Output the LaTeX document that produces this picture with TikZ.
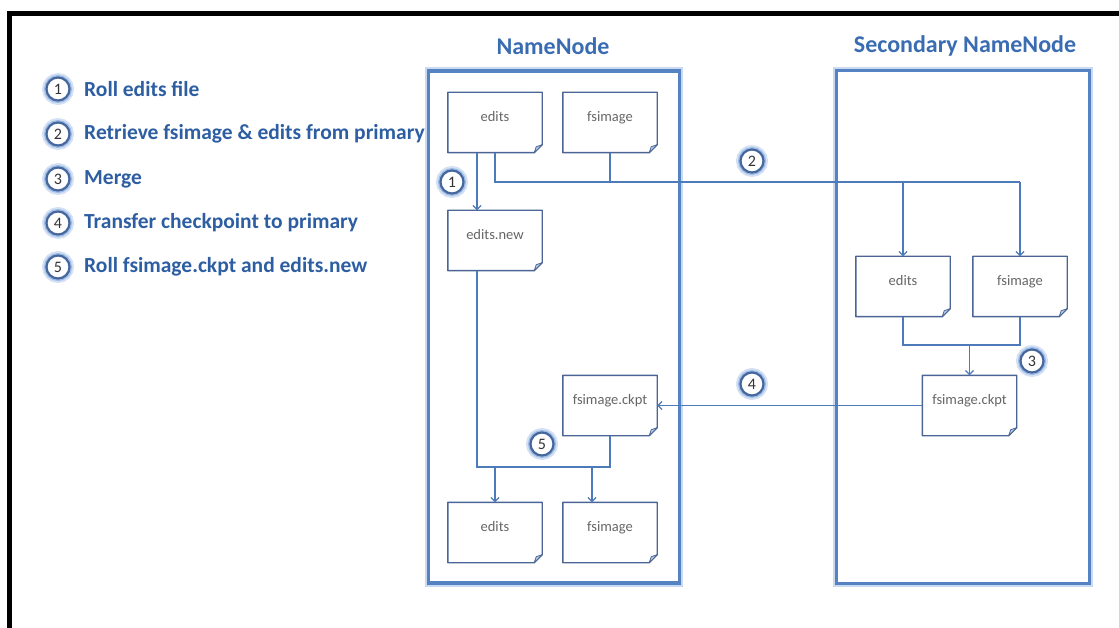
\documentclass[tikz,border=0pt]{standalone}
\usepackage{fontspec}
\setmainfont{Carlito}
\usetikzlibrary{arrows.meta,calc}

\definecolor{boxc}{HTML}{5482C2}
\definecolor{boxglow}{HTML}{C9DAF0}
\definecolor{wirec}{HTML}{4D7AB8}
\definecolor{docc}{HTML}{4A6596}
\definecolor{foldc}{HTML}{B8CCE8}
\definecolor{legc}{HTML}{2D5EA2}
\definecolor{titlec}{HTML}{3A6CB2}
\definecolor{markc}{HTML}{46679E}
\definecolor{glowc}{HTML}{9FBCE6}
\definecolor{labc}{HTML}{666666}

% outline of a document with a folded lower right corner
\newcommand\docoutline[1]{%
  \draw[docc, line width=1.4pt, line join=round]
    (#1.north west) -- (#1.north east) -- ($(#1.south east)+(0,-8)$)
    -- ($(#1.south east)+(-8,0)$) -- (#1.south west) -- cycle;
  \filldraw[fill=foldc, draw=docc, line width=0.8pt, line join=round]
    ($(#1.south east)+(0,-8)$) -- ($(#1.south east)+(-8,0)$)
    -- ($(#1.south east)+(-6,-6)$) -- cycle;
}

\begin{document}
\begin{tikzpicture}[x=1pt, y=-1pt,
  container/.style={draw=boxc, line width=3.2pt, fill=white, inner sep=0pt,
    preaction={draw=boxglow, line width=7.5pt}},
  doc/.style={rectangle, minimum width=94pt, minimum height=60pt, inner sep=0pt,
    fill=white, text=labc, font=\fontsize{14.5}{15}\selectfont, text depth=12pt},
  title/.style={text=titlec, font=\fontsize{24}{26}\selectfont\bfseries},
  legend/.style={anchor=west, text=legc, font=\fontsize{21.5}{23}\selectfont\bfseries, inner sep=0pt},
  marker/.style={circle, draw=markc, line width=2.2pt, fill=white, minimum size=23pt,
    inner sep=0pt, text=black!80, font=\fontsize{16}{16}\selectfont,
    preaction={draw=glowc!45, line width=9pt},
    preaction={draw=glowc, line width=5pt}},
  wire/.style={draw=wirec, line width=1.2pt},
  arr/.style={wire, -{Straight Barb[length=4pt, width=8pt]}}
]
\useasboundingbox (0,0) rectangle (1119,628);

% outer frame
\draw[line width=5pt] (9.5,640) -- (9.5,14) -- (1125,14);

% legend
\foreach \n/\y/\t in {1/89/Roll edits file,
                      2/134/Retrieve fsimage \& edits from primary,
                      3/179/Merge,
                      4/223/Transfer checkpoint to primary,
                      5/267/Roll fsimage.ckpt and edits.new} {
  \node[marker] (lm\n) at (58,\y) {\n};
  \node[legend] (lt\n) at (84,\y) {\t};
}

% the two machines
\node[title] (nnt) at (553,46) {NameNode};
\node[title] (snt) at (965,46) {Secondary NameNode};
\node[container, minimum width=251pt, minimum height=512pt] (nn) at (554,327) {};
\node[container, minimum width=253pt, minimum height=513pt] (sn) at (963,327) {};

% documents on the NameNode
\node[doc] (ea) at (495,122.5) {edits};
\node[doc] (fa) at (610,122.5) {fsimage};
\node[doc] (en) at (495,240.5) {edits.new};
\node[doc] (ck) at (610,405.5) {fsimage.ckpt};
\node[doc] (eb) at (495,532.5) {edits};
\node[doc] (fb) at (610,532.5) {fsimage};
% documents on the Secondary NameNode
\node[doc] (es) at (903,286.5) {edits};
\node[doc] (fs) at (1020,286.5) {fsimage};
\node[doc] (cs) at (969.5,405.5) {fsimage.ckpt};

\foreach \d in {ea,fa,en,ck,eb,fb,es,fs,cs} { \docoutline{\d} }

% bus heights
\coordinate (bus2) at (0,182);
\coordinate (bus3) at (0,345);
\coordinate (bus5) at (0,467);

% 1: roll edits
\draw[arr] ($(ea.south)+(-18,0)$) -- ($(en.north)+(-18,0)$);
% 2: copy fsimage and edits to the secondary
\draw[wire] (ea.south) |- (fs.north |- bus2);
\draw[wire] (fa.south) -- (fa.south |- bus2);
\draw[arr] (es.north |- bus2) -- (es.north);
\draw[arr] (fs.north |- bus2) -- (fs.north);
% 3: merge
\draw[wire] (es.south) |- (fs.south |- bus3) -- (fs.south);
\draw[arr] (cs.north |- bus3) -- (cs.north);
% 4: transfer checkpoint
\draw[arr] (cs.west) -- (ck.east);
% 5: roll
\draw[wire] ($(en.south)+(-18,0)$) |- (ck.south |- bus5) -- (ck.south);
\draw[arr] (eb.north |- bus5) -- (eb.north);
\draw[arr] ($(fb.north)+(-18,-35.5)$) -- ($(fb.north)+(-18,0)$);

% step markers
\node[marker] (m1) at (452,182) {1};
\node[marker] (m2) at (752,161) {2};
\node[marker] (m3) at (1032,361) {3};
\node[marker] (m4) at (752,384) {4};
\node[marker] (m5) at (542,444) {5};
\end{tikzpicture}
\end{document}
